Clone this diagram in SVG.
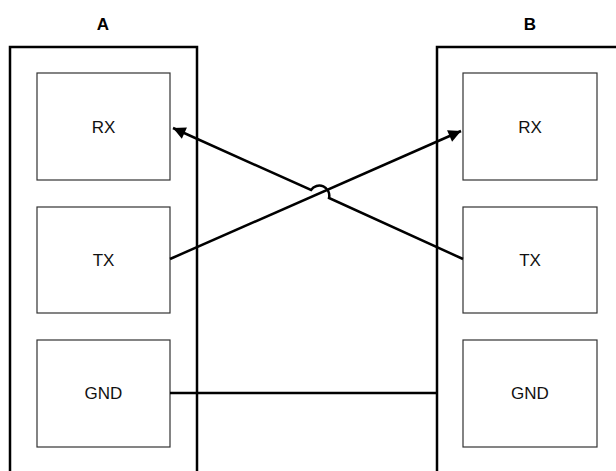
<svg xmlns="http://www.w3.org/2000/svg" width="616" height="471" viewBox="0 0 616 471">
<style>
.outer{fill:none;stroke:#000;stroke-width:2.5}
.inner{fill:#fff;stroke:#333;stroke-width:1.2}
.lbl{font-family:"Liberation Sans",Arial,sans-serif;font-size:17px;fill:#111;text-anchor:middle;dominant-baseline:central}
.ttl{font-family:"Liberation Sans",Arial,sans-serif;font-size:17px;font-weight:bold;fill:#000;text-anchor:middle;dominant-baseline:central}
.wire{fill:none;stroke:#000;stroke-width:2.5}
</style>
<defs>
<marker id="arr" viewBox="0 0 10 10" refX="10" refY="5" markerWidth="6.5" markerHeight="5" orient="auto" markerUnits="strokeWidth">
<path d="M0,0 L10,5 L0,10 z" fill="#000"/>
</marker>
</defs>
<rect width="616" height="471" fill="#fff"/>
<g id="deviceA">
<text class="ttl" x="103" y="24">A</text>
<rect class="outer" x="10" y="47" width="187" height="440"/>
</g>
<g id="deviceB">
<text class="ttl" x="530" y="24">B</text>
<rect class="outer" x="437" y="47" width="187" height="440"/>
</g>
<g id="A-RX"><rect class="inner" x="37" y="73" width="133" height="107"/><text class="lbl" x="103.5" y="127">RX</text></g>
<g id="A-TX"><rect class="inner" x="37" y="207" width="133" height="106"/><text class="lbl" x="103.5" y="260">TX</text></g>
<g id="A-GND"><rect class="inner" x="37" y="340" width="133" height="107"/><text class="lbl" x="103.5" y="393">GND</text></g>
<g id="B-RX"><rect class="inner" x="463" y="73" width="134" height="107"/><text class="lbl" x="530" y="127">RX</text></g>
<g id="B-TX"><rect class="inner" x="463" y="207" width="134" height="106"/><text class="lbl" x="530" y="260">TX</text></g>
<g id="B-GND"><rect class="inner" x="463" y="340" width="134" height="107"/><text class="lbl" x="530" y="393">GND</text></g>
<g id="connectors">
<path class="wire" d="M170,259 L461,131" marker-end="url(#arr)"/>
<path class="wire" d="M463,259 L329,198 A10,10 0 0,0 311,190 L173,128" marker-end="url(#arr)"/>
<path class="wire" d="M170,393 L437,393"/>
</g>
</svg>
